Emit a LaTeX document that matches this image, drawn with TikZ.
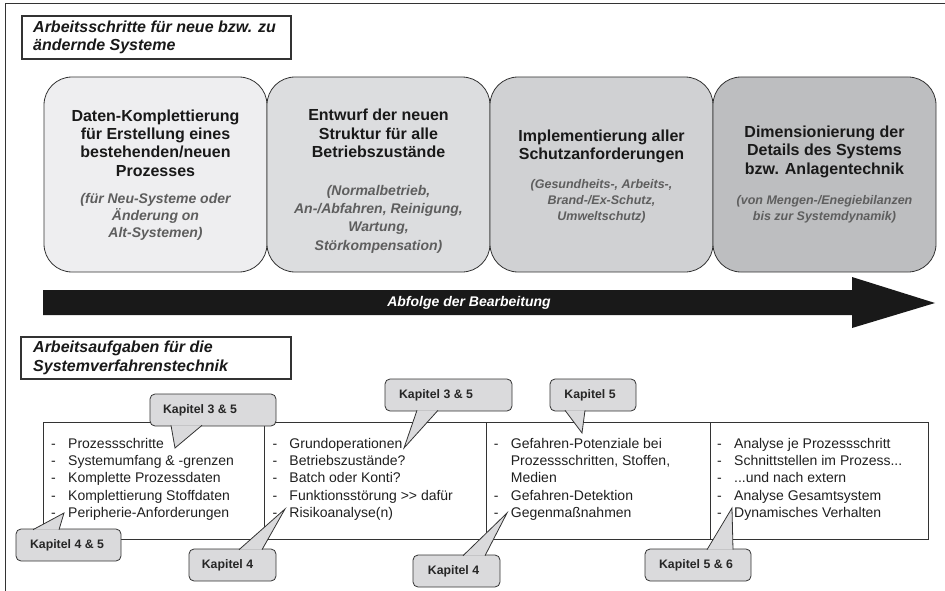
\documentclass[tikz,border=0pt]{standalone}
\usepackage{fontspec}
\setmainfont{Liberation Sans}

\definecolor{frame}{HTML}{333333}
\definecolor{shadeA}{HTML}{EEEEF0}
\definecolor{shadeB}{HTML}{DCDDDF}
\definecolor{shadeC}{HTML}{D0D1D3}
\definecolor{shadeD}{HTML}{BDBEC0}
\definecolor{notegray}{HTML}{5E5E5E}
\definecolor{tagfill}{HTML}{DADADC}

\tikzset{
  phase/.style = {draw=frame, line width=0.8pt, rounded corners=28pt,
    minimum width=223pt, minimum height=195pt, inner sep=0pt, outer sep=0pt},
  phasetitle/.style = {align=center, text=black!90, inner sep=0pt,
    font=\bfseries\fontsize{16}{18.4}\selectfont},
  phasenote/.style = {align=center, text=notegray, inner sep=0pt},
  headbox/.style = {draw=frame, line width=1.5pt, fill=white, anchor=north west,
    inner sep=0pt, outer sep=0pt},
  headtext/.style = {anchor=west, align=left, inner sep=0pt, text=black!90,
    font=\bfseries\itshape\fontsize{16}{18.5}\selectfont},
  cell/.style = {draw=frame, line width=0.8pt, anchor=north west,
    minimum height=117pt, inner sep=0pt, outer sep=0pt},
  items/.style = {anchor=north west, align=left, inner sep=0pt, text=black!88,
    font=\fontsize{14}{17.3}\selectfont},
  tag/.style = {draw=frame, fill=tagfill, line width=0.8pt, rounded corners=5pt,
    anchor=north west, minimum height=32pt, inner sep=0pt, outer sep=0pt,
    font=\bfseries\fontsize{12.3}{14}\selectfont, text=black!85},
  wedge/.style = {draw=frame, fill=tagfill, line width=0.8pt, line join=miter}
}
\newcommand{\dashitem}{\makebox[17pt][l]{-}}
\newcommand{\noitem}{\hspace*{17pt}}

\begin{document}
\begin{tikzpicture}[x=1pt, y=-1pt]
    \useasboundingbox (0,0) rectangle (945,591);
    \draw [frame, line width=1pt] (5,591) -- (5,4) -- (945,4);

    \node (head1) at (22,16) [headbox, minimum width=269pt, minimum height=43pt] {};
    \node (head1text) at ([xshift=11pt]head1.west) [headtext]
      {Arbeitsschritte für neue bzw. zu\\ ändernde Systeme};

    \node (phase1) at (155.5,174.5) [phase, fill=shadeA] {};
    \node (phase2) at (378.5,174.5) [phase, fill=shadeB] {};
    \node (phase3) at (601.5,174.5) [phase, fill=shadeC] {};
    \node (phase4) at (824.5,174.5) [phase, fill=shadeD] {};

    \node (title1) at (155.5,143) [phasetitle]
      {Daten-Komplettierung\\ für Erstellung eines\\ bestehenden/neuen\\ Prozesses};
    \node (note1) at (155.5,217) [phasenote, font=\bfseries\itshape\fontsize{14}{16.7}\selectfont]
      {(für Neu-Systeme oder\\ Änderung on\\ Alt-Systemen)};
    \node (title2) at (378.5,133.5) [phasetitle]
      {Entwurf der neuen\\ Struktur für alle\\ Betriebszustände};
    \node (note2) at (378.5,219) [phasenote, font=\bfseries\itshape\fontsize{14}{18.3}\selectfont]
      {(Normalbetrieb,\\ An-/Abfahren, Reinigung,\\ Wartung,\\ Störkompensation)};
    \node (title3) at (601.5,146.5) [phasetitle]
      {Implementierung aller\\ Schutzanforderungen};
    \node (note3) at (601.5,201) [phasenote, font=\bfseries\itshape\fontsize{12.5}{16}\selectfont]
      {(Gesundheits-, Arbeits-,\\ Brand-/Ex-Schutz,\\ Umweltschutz)};
    \node (title4) at (824.5,151.5) [phasetitle]
      {Dimensionierung der\\ Details des Systems\\ bzw. Anlagentechnik};
    \node (note4) at (824.5,209.5) [phasenote, font=\bfseries\itshape\fontsize{12.5}{15.5}\selectfont]
      {(von Mengen-/Enegiebilanzen\\ bis zur Systemdynamik)};

    \fill [black!90] (43,290) -- (852,290) -- (852,277) -- (935,303)
      -- (852,328) -- (852,315) -- (43,315) -- cycle;
    \node (flow) at (469,302.5) [text=white, font=\bfseries\itshape\fontsize{14}{16}\selectfont]
      {Abfolge der Bearbeitung};

    \node (head2) at (21,337) [headbox, minimum width=270pt, minimum height=42pt] {};
    \node (head2text) at ([xshift=12pt]head2.west) [headtext]
      {Arbeitsaufgaben für die\\ Systemverfahrenstechnik};

    \node (cell1) at (43,422) [cell, minimum width=221pt] {};
    \node (cell2) at (264,422) [cell, minimum width=222pt] {};
    \node (cell3) at (486,422) [cell, minimum width=224pt] {};
    \node (cell4) at (710,422) [cell, minimum width=218pt] {};

    \node (list1) at (51,438) [items]
      {\dashitem Prozessschritte\\ \dashitem Systemumfang \& -grenzen\\
       \dashitem Komplette Prozessdaten\\ \dashitem Komplettierung Stoffdaten\\
       \dashitem Peripherie-Anforderungen};
    \node (list2) at (272.3,438) [items]
      {\dashitem Grundoperationen\\ \dashitem Betriebszustände?\\
       \dashitem Batch oder Konti?\\ \dashitem Funktionsstörung >{}> dafür\\
       \dashitem Risikoanalyse(n)};
    \node (list3) at (493.7,438) [items]
      {\dashitem Gefahren-Potenziale bei\\ \noitem Prozessschritten, Stoffen,\\
       \noitem Medien\\ \dashitem Gefahren-Detektion\\ \dashitem Gegenmaßnahmen};
    \node (list4) at (717,438) [items]
      {\dashitem Analyse je Prozessschritt\\ \dashitem Schnittstellen im Prozess...\\
       \dashitem ...und nach extern\\ \dashitem Analyse Gesamtsystem\\
       \dashitem Dynamisches Verhalten};

    \coordinate (tip1) at (175,448);
    \coordinate (tip2) at (404,448);
    \coordinate (tip3) at (582,433);
    \coordinate (tip4) at (64,513);
    \coordinate (tip5) at (285,509);
    \coordinate (tip6) at (507,513);
    \coordinate (tip7) at (732,508);

    \node (tag1) at (150,394) [tag, minimum width=126pt] {\hspace*{-26pt}Kapitel 3 \& 5};
    \node (tag2) at (385,379) [tag, minimum width=127pt] {\hspace*{-25pt}Kapitel 3 \& 5};
    \node (tag3) at (550,379) [tag, minimum width=86pt] {\hspace*{-6pt}Kapitel 5};
    \node (tag4) at (16,529) [tag, minimum width=105pt] {\hspace*{-3pt}Kapitel 4 \& 5};
    \node (tag5) at (189,549) [tag, minimum width=87pt] {\hspace*{-10pt}Kapitel 4};
    \node (tag6) at (413,555) [tag, minimum width=87pt] {\hspace*{-6pt}Kapitel 4};
    \node (tag7) at (645,549) [tag, minimum width=106pt] {\hspace*{-4pt}Kapitel 5 \& 6};

    \filldraw [wedge] ([xshift=21pt, yshift=0.7pt]tag1.south west) -- (tip1)
      -- ([xshift=52pt, yshift=0.7pt]tag1.south west);
    \filldraw [wedge] ([xshift=32pt, yshift=0.7pt]tag2.south west) -- (tip2)
      -- ([xshift=53pt, yshift=0.7pt]tag2.south west);
    \filldraw [wedge] ([xshift=15pt, yshift=0.7pt]tag3.south west) -- (tip3)
      -- ([xshift=35pt, yshift=0.7pt]tag3.south west);
    \filldraw [wedge] ([xshift=17pt, yshift=-0.7pt]tag4.north west) -- (tip4)
      -- ([xshift=43pt, yshift=-0.7pt]tag4.north west);
    \filldraw [wedge] ([xshift=50pt, yshift=-0.7pt]tag5.north west) -- (tip5)
      -- ([xshift=73pt, yshift=-0.7pt]tag5.north west);
    \filldraw [wedge] ([xshift=50pt, yshift=-0.7pt]tag6.north west) -- (tip6)
      -- ([xshift=72pt, yshift=-0.7pt]tag6.north west);
    \filldraw [wedge] ([xshift=62pt, yshift=-0.7pt]tag7.north west) -- (tip7)
      -- ([xshift=88pt, yshift=-0.7pt]tag7.north west);
\end{tikzpicture}
\end{document}
